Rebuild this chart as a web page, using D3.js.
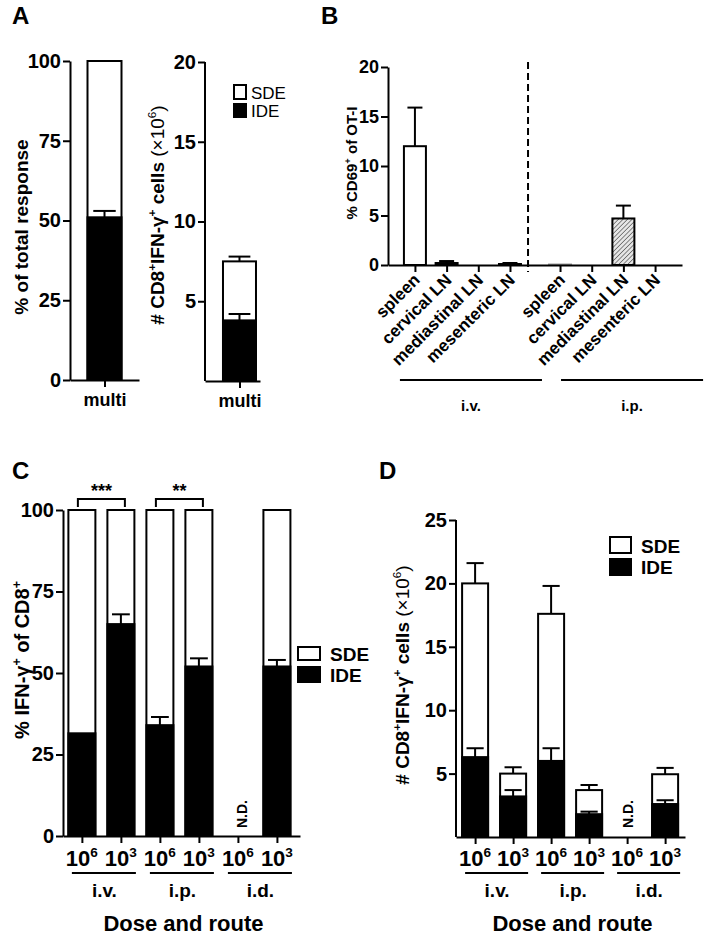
<!DOCTYPE html>
<html><head><meta charset="utf-8">
<script src="https://cdn.jsdelivr.net/npm/d3@7"></script>
<style>
body{margin:0;background:#fff;}
svg{display:block;font-family:Arial,"Liberation Sans",Helvetica,sans-serif;}
</style></head><body>
<svg id="c" width="708" height="936"></svg>
<script>
// ---------- data ----------
const aCategories = ["multi"];
const aPctTotal = [100];
const aPctIDE = [51];
const aPctIDEErr = [53];
const aCountTotal = [7.5];
const aCountTotalErr = [7.8];
const aCountIDE = [3.8];
const aCountIDEErr = [4.2];
const aPctTicks = [0, 25, 50, 75, 100];
const aCountTicks = [5, 10, 15, 20];

const bSites = ["spleen", "cervical LN", "mediastinal LN", "mesenteric LN"];
const bRoutes = ["i.v.", "i.p."];
const bIV = [12.0, 0.2, 0, 0.1];
const bIVErr = [15.9, 0.4, 0, 0.2];
const bIP = [0.05, 0, 4.7, 0];
const bIPErr = [0.05, 0, 6.0, 0];
const bTicks = [0, 5, 10, 15, 20];

const cdCategories = ["i.v. 10^6", "i.v. 10^3", "i.p. 10^6", "i.p. 10^3", "i.d. 10^6", "i.d. 10^3"];
const cdDoseExp = ["6", "3", "6", "3", "6", "3"];
const cdRoutes = ["i.v.", "i.p.", "i.d."];
const cTotal = [100, 100, 100, 100, null, 100];
const cIDE = [31.5, 65, 34, 52, null, 52];
const cIDEErr = [31.7, 68, 36.5, 54.5, null, 54];
const cTicks = [0, 25, 50, 75, 100];
const cSig = [{from: 0, to: 1, label: "***"}, {from: 2, to: 3, label: "**"}];

const dTotal = [20.0, 5.0, 17.6, 3.7, null, 4.95];
const dTotalErr = [21.6, 5.5, 19.8, 4.1, null, 5.45];
const dIDE = [6.3, 3.2, 6.0, 1.8, null, 2.6];
const dIDEErr = [7.0, 3.7, 7.0, 2.0, null, 2.9];
const dTicks = [5, 10, 15, 20, 25];

const legendLabels = ["SDE", "IDE"];

// ---------- helpers ----------
const svg = d3.select("#c");
const defs = svg.append("defs");
const pat = defs.append("pattern").attr("id", "hatch").attr("width", 3.2).attr("height", 3.2)
  .attr("patternUnits", "userSpaceOnUse").attr("patternTransform", "rotate(45)");
pat.append("rect").attr("width", 3.2).attr("height", 3.2).attr("fill", "#e6e6e6");
pat.append("line").attr("x1", 0).attr("y1", 0).attr("x2", 0).attr("y2", 3.2).attr("stroke", "#333").attr("stroke-width", 1.1);

function rich(sel, parts, size) {
  let cur = 0;
  parts.forEach(p => {
    const ts = sel.append("tspan").text(p.t);
    const target = p.sup ? -size * 0.42 : 0;
    ts.attr("dy", target - cur);
    cur = target;
    if (p.sup) ts.attr("font-size", size * 0.62);
    if (p.w) ts.attr("font-weight", p.w);
  });
  return sel;
}

function styleAxis(g, fs, weight) {
  g.selectAll("path.domain").attr("stroke", "#000").attr("stroke-width", 2);
  g.selectAll(".tick line").attr("stroke", "#000").attr("stroke-width", 2);
  g.selectAll(".tick text").attr("font-size", fs).attr("font-weight", weight || "bold").attr("fill", "#000");
}

function yAxis(y, x0, ticks, fs) {
  const g = svg.append("g").attr("transform", `translate(${x0},0)`)
    .call(d3.axisLeft(y).tickValues(ticks).tickSize(7).tickSizeOuter(0).tickPadding(2));
  styleAxis(g, fs);
  return g;
}

function stackedBar(x, y, cat, w, total, totalErr, ide, ideErr) {
  const cx = x(cat);
  const capW = w * 0.66;
  if (total == null) return;
  svg.append("rect").attr("x", cx - w / 2).attr("y", y(total)).attr("width", w).attr("height", y(0) - y(total))
    .attr("fill", "#fff").attr("stroke", "#000").attr("stroke-width", 2);
  if (totalErr != null && totalErr > total) {
    svg.append("line").attr("x1", cx).attr("x2", cx).attr("y1", y(total)).attr("y2", y(totalErr)).attr("stroke", "#000").attr("stroke-width", 2);
    svg.append("line").attr("x1", cx - capW / 2).attr("x2", cx + capW / 2).attr("y1", y(totalErr)).attr("y2", y(totalErr)).attr("stroke", "#000").attr("stroke-width", 2);
  }
  svg.append("rect").attr("x", cx - w / 2).attr("y", y(ide)).attr("width", w).attr("height", y(0) - y(ide))
    .attr("fill", "#000").attr("stroke", "#000").attr("stroke-width", 2);
  if (ideErr != null && ideErr > ide + 0.3 * (y.domain()[1] / 100)) {
    svg.append("line").attr("x1", cx).attr("x2", cx).attr("y1", y(ide)).attr("y2", y(ideErr)).attr("stroke", "#000").attr("stroke-width", 2);
    svg.append("line").attr("x1", cx - capW / 2).attr("x2", cx + capW / 2).attr("y1", y(ideErr)).attr("y2", y(ideErr)).attr("stroke", "#000").attr("stroke-width", 2);
  }
}

function legend(x0, boxes, tx, baselines, fs, weight) {
  legendLabels.forEach((lab, i) => {
    const b = boxes[i];
    svg.append("rect").attr("x", x0).attr("y", b[0]).attr("width", b[2]).attr("height", b[1])
      .attr("fill", i === 0 ? "#fff" : "#000").attr("stroke", "#000").attr("stroke-width", 2);
    svg.append("text").attr("x", tx).attr("y", baselines[i]).attr("font-size", fs).attr("font-weight", weight).text(lab);
  });
}

function panelLetter(t, x, y) {
  svg.append("text").attr("x", x).attr("y", y).attr("font-size", 24).attr("font-weight", "bold").text(t);
}

// ---------- Panel A (left) ----------
panelLetter("A", 12, 24);
{
  const y = d3.scaleLinear().domain([0, 100]).range([380, 61]);
  const x = d3.scalePoint().domain(aCategories).range([70, 139]).align(0.5);
  aCategories.forEach((c, i) => stackedBar(x, y, c, 34, aPctTotal[i], null, aPctIDE[i], aPctIDEErr[i]));
  yAxis(y, 70, aPctTicks, 20);
  const gx = svg.append("g").attr("transform", "translate(0,380)")
    .call(d3.axisBottom(x).tickSize(7).tickSizeOuter(0).tickPadding(6));
  styleAxis(gx, 18);
  svg.append("text").attr("transform", "translate(28,227) rotate(-90)").attr("text-anchor", "middle")
    .attr("font-size", 19).attr("font-weight", "bold").text("% of total response");
}

// ---------- Panel A (right) ----------
{
  const y = d3.scaleLinear().domain([0, 20]).range([381, 62]);
  const x = d3.scalePoint().domain(aCategories).range([205, 260]).align(0.627);
  aCategories.forEach((c, i) => stackedBar(x, y, c, 33, aCountTotal[i], aCountTotalErr[i], aCountIDE[i], aCountIDEErr[i]));
  const gy = svg.append("g").attr("transform", "translate(205,0)")
    .call(d3.axisLeft(y).tickValues(aCountTicks).tickSize(7).tickSizeOuter(0).tickPadding(2));
  gy.select("path.domain").attr("d", `M0,${y(0)}V${y(20)}`);
  styleAxis(gy, 20);
  const gx = svg.append("g").attr("transform", "translate(0,381)")
    .call(d3.axisBottom(x).tickSize(7).tickSizeOuter(0).tickPadding(6));
  styleAxis(gx, 18);
  legend(234, [[85, 14, 12], [104, 13, 12]], 251, [99, 117], 17, "normal");
  const t = svg.append("text").attr("transform", "translate(164,215) rotate(-90)").attr("text-anchor", "middle")
    .attr("font-size", 19).attr("font-weight", "bold");
  rich(t, [{t: "# CD8"}, {t: "+", sup: true}, {t: "IFN-γ"}, {t: "+", sup: true}, {t: " cells "},
           {t: "(×10", w: "normal"}, {t: "6", sup: true, w: "normal"}, {t: ")", w: "normal"}], 19);
}

// ---------- Panel B ----------
panelLetter("B", 321, 24);
{
  const y = d3.scaleLinear().domain([0, 20]).range([265, 67]);
  const gapExtra = 0.58;
  const pos = (route, i) => i + (route === 1 ? bSites.length + gapExtra : 0);
  const x = d3.scaleLinear().domain([-0.85, 8.43]).range([388, 682]);
  const bw = 22;
  [bIV, bIP].forEach((vals, r) => {
    const errs = r === 0 ? bIVErr : bIPErr;
    vals.forEach((v, i) => {
      const cx = x(pos(r, i));
      if (v > 0) {
        svg.append("rect").attr("x", cx - bw / 2).attr("y", y(v)).attr("width", bw).attr("height", y(0) - y(v))
          .attr("fill", r === 0 ? "#fff" : "url(#hatch)").attr("stroke", r === 0 || v > 1 ? "#000" : "#999").attr("stroke-width", 2);
      }
      if (errs[i] > v) {
        svg.append("line").attr("x1", cx).attr("x2", cx).attr("y1", y(v)).attr("y2", y(errs[i])).attr("stroke", "#000").attr("stroke-width", 2);
        svg.append("line").attr("x1", cx - 7.5).attr("x2", cx + 7.5).attr("y1", y(errs[i])).attr("y2", y(errs[i])).attr("stroke", "#000").attr("stroke-width", 2);
      }
    });
  });
  yAxis(y, 388, bTicks, 18);
  const tickPos = [];
  bRoutes.forEach((r, ri) => bSites.forEach((s, i) => tickPos.push(pos(ri, i))));
  const gx = svg.append("g").attr("transform", "translate(0,265)")
    .call(d3.axisBottom(x).tickValues(tickPos).tickSize(7).tickSizeOuter(0).tickFormat(""));
  styleAxis(gx, 16);
  // dashed divider
  const divPos = bSites.length - 1 + 0.57;
  svg.append("line").attr("x1", x(divPos)).attr("x2", x(divPos)).attr("y1", 62).attr("y2", 272)
    .attr("stroke", "#000").attr("stroke-width", 2).attr("stroke-dasharray", "7,4");
  // rotated labels + route brackets
  const lineOff = [[-15, 32], [1, 48]];
  bRoutes.forEach((r, ri) => {
    bSites.forEach((s, i) => {
      const cx = x(pos(ri, i));
      svg.append("text").attr("transform", `translate(${cx + 6},${281}) rotate(-45)`).attr("text-anchor", "end")
        .attr("font-size", 17).attr("font-weight", "bold").text(s);
    });
    const x1 = x(pos(ri, 0)) + lineOff[ri][0], x2 = x(pos(ri, bSites.length - 1)) + lineOff[ri][1];
    svg.append("line").attr("x1", x1).attr("x2", x2).attr("y1", 380).attr("y2", 380).attr("stroke", "#000").attr("stroke-width", 2);
    svg.append("text").attr("x", (x1 + x2) / 2).attr("y", 411).attr("text-anchor", "middle")
      .attr("font-size", 15).attr("font-weight", "bold").text(r);
  });
  const t = svg.append("text").attr("transform", "translate(357,163) rotate(-90)").attr("text-anchor", "middle")
    .attr("font-size", 15).attr("font-weight", "bold");
  rich(t, [{t: "% CD69"}, {t: "+", sup: true}, {t: " of OT-I"}], 15);
}

// ---------- shared C/D x axis ----------
function doseAxis(x, yBase, ndBaselineX, totals) {
  const gx = svg.append("g").attr("transform", `translate(0,${yBase})`)
    .call(d3.axisBottom(x).tickSize(7).tickSizeOuter(0).tickFormat(""));
  styleAxis(gx, 20);
  cdCategories.forEach((c, i) => {
    const t = svg.append("text").attr("x", x(c)).attr("y", 866).attr("text-anchor", "middle")
      .attr("font-size", 22).attr("font-weight", "bold");
    rich(t, [{t: "10"}, {t: cdDoseExp[i], sup: true}], 22);
  });
  cdRoutes.forEach((r, ri) => {
    const a = x(cdCategories[ri * 2]), b = x(cdCategories[ri * 2 + 1]);
    svg.append("line").attr("x1", a - 10).attr("x2", b + 15).attr("y1", 873).attr("y2", 873).attr("stroke", "#000").attr("stroke-width", 2);
    svg.append("text").attr("x", (a + b) / 2 + 3).attr("y", 897).attr("text-anchor", "middle")
      .attr("font-size", 19).attr("font-weight", "bold").text(r);
  });
  const [l, rr] = x.range();
  svg.append("text").attr("x", (l + rr) / 2 + 2).attr("y", 931).attr("text-anchor", "middle")
    .attr("font-size", 22).attr("font-weight", "bold").text("Dose and route");
  cdCategories.forEach((c, i) => {
    if (totals[i] == null) {
      svg.append("text").attr("transform", `translate(${x(c) + ndBaselineX},828) rotate(-90)`)
        .attr("font-size", 14).attr("font-weight", "bold").text("N.D.");
    }
  });
}

// ---------- Panel C ----------
panelLetter("C", 12, 479);
{
  const y = d3.scaleLinear().domain([0, 100]).range([836, 510]);
  const x = d3.scalePoint().domain(cdCategories).range([63, 300]).padding(0.538).align(0.45);
  cdCategories.forEach((c, i) => stackedBar(x, y, c, 27, cTotal[i], null, cIDE[i], cIDEErr[i]));
  yAxis(y, 63, cTicks, 20);
  doseAxis(x, 836, 9, cTotal);
  cSig.forEach(s => {
    const a = x(cdCategories[s.from]) - 4, b = x(cdCategories[s.to]) + 4;
    svg.append("path").attr("d", `M${a},507V499H${b}V507`).attr("fill", "none").attr("stroke", "#000").attr("stroke-width", 2);
    svg.append("text").attr("x", (a + b) / 2).attr("y", 497).attr("text-anchor", "middle")
      .attr("font-size", 18).attr("font-weight", "bold").text(s.label);
  });
  legend(298, [[647, 13, 22], [667, 15, 22]], 330, [661, 682], 19, "bold");
  const t = svg.append("text").attr("transform", "translate(29,660) rotate(-90)").attr("text-anchor", "middle")
    .attr("font-size", 20).attr("font-weight", "bold");
  rich(t, [{t: "% IFN-γ"}, {t: "+", sup: true}, {t: " of CD8"}, {t: "+", sup: true}], 20);
}

// ---------- Panel D ----------
panelLetter("D", 379, 479);
{
  const y = d3.scaleLinear().domain([0, 25]).range([837, 520]);
  const x = d3.scalePoint().domain(cdCategories).range([456, 685]).padding(0.513).align(0.49);
  cdCategories.forEach((c, i) => stackedBar(x, y, c, 26, dTotal[i], dTotalErr[i], dIDE[i], dIDEErr[i]));
  const gy = svg.append("g").attr("transform", "translate(456,0)")
    .call(d3.axisLeft(y).tickValues(dTicks).tickSize(7).tickSizeOuter(0).tickPadding(2));
  gy.select("path.domain").attr("d", `M0,${y(0)}V${y(25)}`);
  styleAxis(gy, 20);
  doseAxis(x, 837, 6, dTotal);
  legend(610, [[537, 16, 21], [559, 16, 21]], 641, [553, 574], 19, "bold");
  const t = svg.append("text").attr("transform", "translate(409,675) rotate(-90)").attr("text-anchor", "middle")
    .attr("font-size", 19).attr("font-weight", "bold");
  rich(t, [{t: "# CD8"}, {t: "+", sup: true}, {t: "IFN-γ"}, {t: "+", sup: true}, {t: " cells "},
           {t: "(×10", w: "normal"}, {t: "6", sup: true, w: "normal"}, {t: ")", w: "normal"}], 19);
}
</script>
</body></html>
